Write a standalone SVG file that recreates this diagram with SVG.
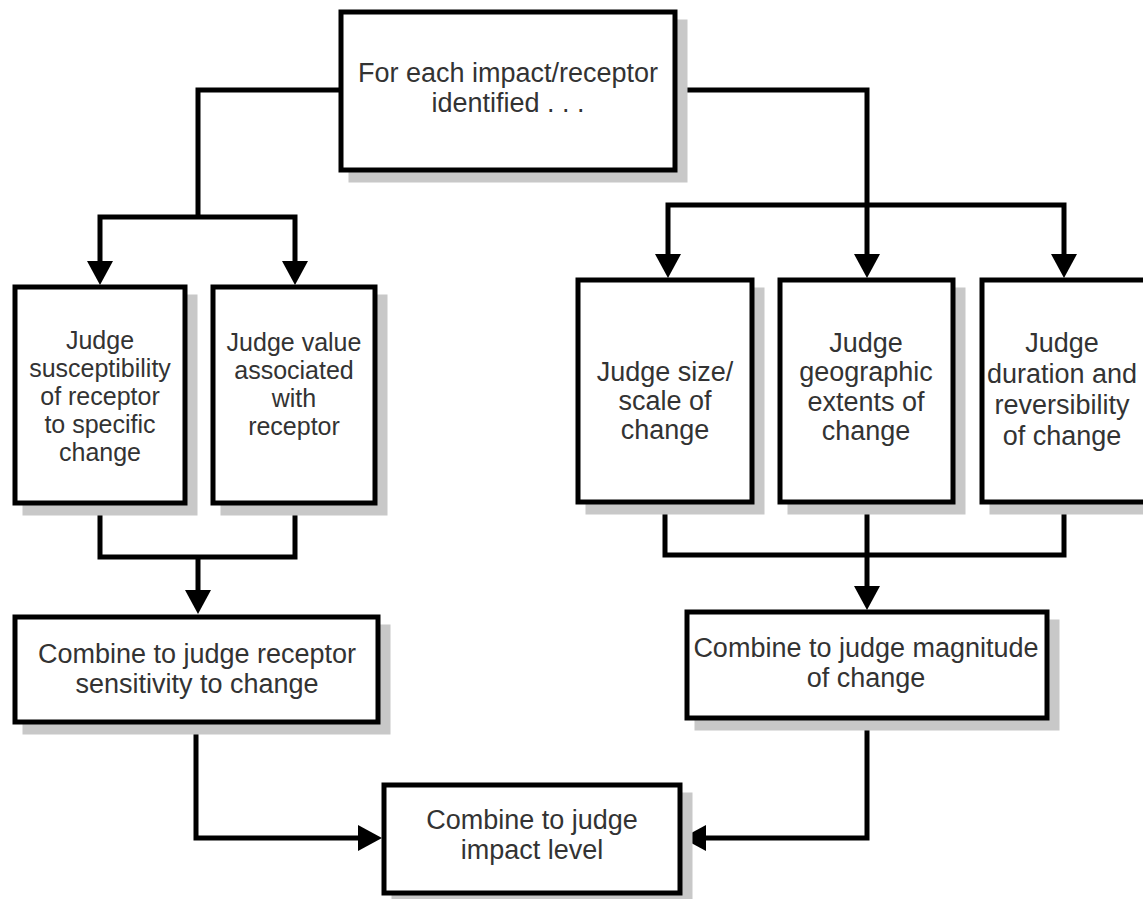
<svg xmlns="http://www.w3.org/2000/svg" width="1143" height="899" viewBox="0 0 1143 899">
<defs>
<style>
.box{fill:#ffffff;stroke:#000;stroke-width:5}
.sh{fill:#c8c8c8;stroke:#c8c8c8;stroke-width:5}
.t{font-family:"Liberation Sans",Arial,sans-serif;font-size:27px;fill:#333;text-anchor:middle}
.s{font-size:25px}
.ln{fill:none;stroke:#000;stroke-width:5;stroke-linejoin:miter;stroke-linecap:butt}
.ah{fill:#000}
</style>
</defs>
<rect x="0" y="0" width="1143" height="899" fill="#ffffff"/>

<g id="connectors">
<path class="ln" d="M341,90 H198 V217"/>
<path class="ln" d="M100,262 V217 H295 V262"/>
<polygon class="ah" points="87,261 113,261 100,285"/>
<polygon class="ah" points="282,261 308,261 295,285"/>

<path class="ln" d="M675,90 H867 V256"/>
<path class="ln" d="M668,256 V205 H1064 V256"/>
<polygon class="ah" points="655,254 681,254 668,278"/>
<polygon class="ah" points="854,254 880,254 867,278"/>
<polygon class="ah" points="1051,254 1077,254 1064,278"/>

<path class="ln" d="M100,503 V557 H295 V503"/>
<path class="ln" d="M198,557 V592"/>
<polygon class="ah" points="185,590 211,590 198,614"/>

<path class="ln" d="M665,502 V555 H1064 V502"/>
<path class="ln" d="M867,502 V588"/>
<polygon class="ah" points="854,586 880,586 867,610"/>

<path class="ln" d="M196,722 V838 H360"/>
<polygon class="ah" points="358,825 358,851 382,838"/>
<path class="ln" d="M867,718 V838 H704"/>
<polygon class="ah" points="706,825 706,851 682,838"/>
</g>

<g id="node-start">
<rect class="sh" x="351" y="22" width="334" height="158"/>
<rect class="box" x="341" y="12" width="334" height="158"/>
<text class="t" x="508" y="82">For each impact/receptor</text>
<text class="t" x="508" y="112">identified . . .</text>
</g>

<g id="node-susceptibility">
<rect class="sh" x="25" y="297" width="170" height="216"/>
<rect class="box" x="15" y="287" width="170" height="216"/>
<text class="t s" x="100" y="349">Judge</text>
<text class="t s" x="100" y="377">susceptibility</text>
<text class="t s" x="100" y="405">of receptor</text>
<text class="t s" x="100" y="433">to specific</text>
<text class="t s" x="100" y="461">change</text>
</g>

<g id="node-value">
<rect class="sh" x="223" y="297" width="162" height="216"/>
<rect class="box" x="213" y="287" width="162" height="216"/>
<text class="t s" x="294" y="351">Judge value</text>
<text class="t s" x="294" y="379">associated</text>
<text class="t s" x="294" y="407">with</text>
<text class="t s" x="294" y="435">receptor</text>
</g>

<g id="node-size">
<rect class="sh" x="588" y="290" width="174" height="222"/>
<rect class="box" x="578" y="280" width="174" height="222"/>
<text class="t" x="665" y="381">Judge size/</text>
<text class="t" x="665" y="410">scale of</text>
<text class="t" x="665" y="439">change</text>
</g>

<g id="node-geographic">
<rect class="sh" x="790" y="290" width="173" height="222"/>
<rect class="box" x="780" y="280" width="173" height="222"/>
<text class="t" x="866" y="352">Judge</text>
<text class="t" x="866" y="381">geographic</text>
<text class="t" x="866" y="411">extents of</text>
<text class="t" x="866" y="440">change</text>
</g>

<g id="node-duration">
<rect class="sh" x="992" y="290" width="174" height="222"/>
<rect class="box" x="982" y="280" width="174" height="222"/>
<text class="t" x="1062" y="352">Judge</text>
<text class="t" x="1062" y="383">duration and</text>
<text class="t" x="1062" y="414">reversibility</text>
<text class="t" x="1062" y="445">of change</text>
</g>

<g id="node-sensitivity">
<rect class="sh" x="25" y="627" width="363" height="105"/>
<rect class="box" x="15" y="617" width="363" height="105"/>
<text class="t" x="197" y="663">Combine to judge receptor</text>
<text class="t" x="197" y="693">sensitivity to change</text>
</g>

<g id="node-magnitude">
<rect class="sh" x="697" y="622" width="360" height="106"/>
<rect class="box" x="687" y="612" width="360" height="106"/>
<text class="t" x="866" y="657">Combine to judge magnitude</text>
<text class="t" x="866" y="687">of change</text>
</g>

<g id="node-impact">
<rect class="sh" x="394" y="795" width="296" height="108"/>
<rect class="box" x="384" y="785" width="296" height="108"/>
<text class="t" x="532" y="829">Combine to judge</text>
<text class="t" x="532" y="859">impact level</text>
</g>
</svg>
